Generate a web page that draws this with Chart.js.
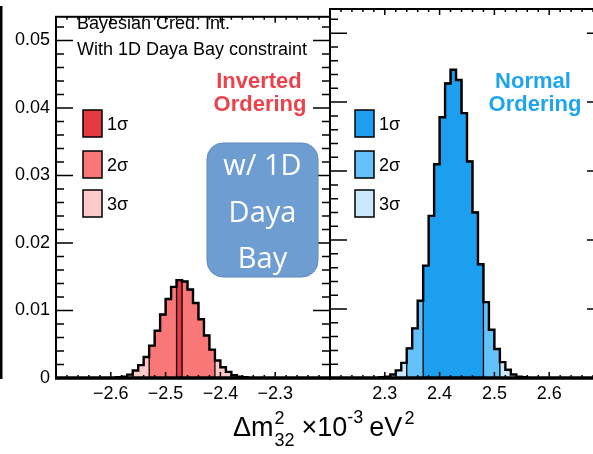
<!DOCTYPE html>
<html>
<head>
<meta charset="utf-8">
<script src="https://cdn.jsdelivr.net/npm/chart.js@4"></script>
<style>
body { margin: 0; background: #fff; overflow: hidden; }
#wrap { position: relative; width: 620px; height: 454px; }
#left { position: absolute; left: 0; top: 0; }
#right { position: absolute; left: 320px; top: 0; }
</style>
</head>
<body>
<div id="wrap">
<canvas id="left" width="620" height="454"></canvas>
<canvas id="right" width="300" height="454"></canvas>
</div>
<script>
// posterior histograms, 0.01 wide bins
var binWidth = 0.01;

// inverted ordering, first bin starts at -2.59
var ioFirstEdge = -2.59;
var ioHeights = [0.0001, 0.0002, 0.0005, 0.0011, 0.0019, 0.0031, 0.0048, 0.0070,
                 0.0094, 0.0117, 0.0135, 0.0145, 0.0143, 0.0131, 0.0111, 0.0087,
                 0.0063, 0.0042, 0.0026, 0.0016, 0.0009, 0.0004, 0.0002, 0.0001];
var io1Sigma = [-2.48, -2.47];
var io2Sigma = [-2.53, -2.41];

// normal ordering, first bin starts at 2.29
var noFirstEdge = 2.29;
var noHeights = [0.0001, 0.0002, 0.0005, 0.0011, 0.0022, 0.0043, 0.0072, 0.0112, 0.0163,
                 0.0235, 0.0310, 0.0378, 0.0427, 0.0447, 0.0432, 0.0384, 0.0314, 0.0240,
                 0.0165, 0.0110, 0.0070, 0.0042, 0.0023, 0.0012, 0.0005, 0.0002, 0.0001];
var no1Sigma = [2.37, 2.48];
var no2Sigma = [2.34, 2.51];

var yTicks = [0, 0.01, 0.02, 0.03, 0.04, 0.05];
var ioTicks = [-2.7, -2.6, -2.5, -2.4, -2.3, -2.2];
var noTicks = [2.2, 2.3, 2.4, 2.5, 2.6, 2.7];
var legendLabels = ['1\u03c3', '2\u03c3', '3\u03c3'];

var yMax = 0.0535;
var ioColors = ['#e53b40', '#fa7777', '#fdc9c9'];
var noColors = ['#1d9ff0', '#62c2f9', '#c9e8fb'];
var FONT = '"Liberation Sans", Arial, sans-serif';

// stepped points for the bins between lo and hi
function histPoints(first, heights, lo, hi) {
    var pts = [];
    for (var i = 0; i < heights.length; i++) {
        var x = Math.round((first + i * binWidth) * 1000) / 1000;
        if (x < lo - 1e-6 || x > hi - binWidth + 1e-6) continue;
        if (!pts.length) pts.push({x: x, y: 0});
        pts.push({x: x, y: heights[i]});
    }
    pts.push({x: hi, y: 0});
    return pts;
}

function makeDatasets(first, heights, s1, s2, colors) {
    var last = Math.round((first + heights.length * binWidth) * 1000) / 1000;
    var all = histPoints(first, heights, first, last);
    var base = {stepped: true, pointRadius: 0, tension: 0, fill: 'origin'};
    return [
        Object.assign({}, base, {data: all, fill: false, borderColor: '#000', borderWidth: 2.4}),
        Object.assign({}, base, {data: histPoints(first, heights, s1[0], s1[1]),
            backgroundColor: colors[0], borderColor: '#000', borderWidth: 1.3}),
        Object.assign({}, base, {data: histPoints(first, heights, s2[0], s2[1]),
            backgroundColor: colors[1], borderColor: '#000', borderWidth: 1.3}),
        Object.assign({}, base, {data: all, backgroundColor: colors[2], borderWidth: 0})
    ];
}

function fmt(v) {
    return (v < 0 ? '\u2212' : '') + Math.abs(v).toFixed(1);
}

// ROOT style frame with inward ticks
var rootFrame = {
    id: 'rootFrame',
    afterDraw: function(chart) {
        var ctx = chart.ctx, a = chart.chartArea;
        var xs = chart.scales.x, ys = chart.scales.y;
        ctx.save();
        ctx.strokeStyle = '#000';
        ctx.lineWidth = 1.5;
        ctx.beginPath();
        for (var i = 0; i * 0.002 <= yMax; i++) {
            var py = ys.getPixelForValue(i * 0.002);
            var len = i % 5 === 0 ? 17 : 8;
            ctx.moveTo(a.left, py); ctx.lineTo(a.left + len, py);
            ctx.moveTo(a.right, py); ctx.lineTo(a.right - len, py);
        }
        for (var j = 0; j <= 25; j++) {
            var v = xs.min + j * 0.02;
            var px = xs.getPixelForValue(v);
            var l2 = j % 5 === 0 ? 6 : 3;
            ctx.moveTo(px, a.bottom); ctx.lineTo(px, a.bottom - l2);
            ctx.moveTo(px, a.top); ctx.lineTo(px, a.top + l2);
        }
        ctx.stroke();
        ctx.lineWidth = 2;
        ctx.strokeRect(a.left, a.top, a.right - a.left, a.bottom - a.top);
        ctx.lineWidth = 3.5;
        ctx.beginPath();
        ctx.moveTo(a.left - 1, a.bottom); ctx.lineTo(a.right + 1, a.bottom);
        ctx.stroke();
        ctx.restore();
    }
};

function drawLegend(ctx, x, colors) {
    var tops = [110, 151, 190];
    ctx.save();
    ctx.lineWidth = 1.5;
    ctx.strokeStyle = '#000';
    ctx.font = '18px ' + FONT;
    ctx.textBaseline = 'middle';
    ctx.textAlign = 'left';
    for (var i = 0; i < 3; i++) {
        ctx.fillStyle = colors[i];
        ctx.fillRect(x, tops[i], 19, 27);
        ctx.strokeRect(x, tops[i], 19, 27);
        ctx.fillStyle = '#000';
        ctx.fillText(legendLabels[i], x + 24, tops[i] + 15);
    }
    ctx.restore();
}

function roundRect(ctx, x, y, w, h, r) {
    ctx.beginPath();
    ctx.moveTo(x + r, y);
    ctx.arcTo(x + w, y, x + w, y + h, r);
    ctx.arcTo(x + w, y + h, x, y + h, r);
    ctx.arcTo(x, y + h, x, y, r);
    ctx.arcTo(x, y, x + w, y, r);
    ctx.closePath();
}

var leftDecor = {
    id: 'leftDecor',
    afterDraw: function(chart) {
        var ctx = chart.ctx;
        ctx.save();
        // cropped outer frame
        ctx.fillStyle = '#000';
        ctx.fillRect(0, 6, 2.5, 373);

        ctx.font = '18px ' + FONT;
        ctx.textAlign = 'left';
        ctx.textBaseline = 'alphabetic';
        ctx.fillText('Bayesian Cred. Int.', 77, 29);
        ctx.fillText('With 1D Daya Bay constraint', 77, 55);

        ctx.fillStyle = '#eb424b';
        ctx.font = 'bold 22px ' + FONT;
        ctx.textAlign = 'center';
        ctx.fillText('Inverted', 259, 88);
        ctx.fillText('Ordering', 260, 111);

        drawLegend(ctx, 83, ioColors);

        roundRect(ctx, 207, 143, 111, 134, 16);
        ctx.fillStyle = '#6e9ed1';
        ctx.fill();
        ctx.strokeStyle = '#5b89c2';
        ctx.lineWidth = 1;
        ctx.stroke();
        ctx.fillStyle = '#fff';
        ctx.font = '29px "Open Sans", sans-serif';
        ctx.textAlign = 'center';
        ctx.textBaseline = 'alphabetic';
        ctx.fillText('w/ 1D', 262.5, 175);
        ctx.fillText('Daya', 262.5, 222);
        ctx.fillText('Bay', 262.5, 268);

        // axis title
        var x = 233, y = 436;
        var big = '27px ' + FONT, small = '18px ' + FONT;
        ctx.fillStyle = '#000';
        ctx.textAlign = 'left';
        ctx.font = big; ctx.fillText('\u0394m', x, y);
        x += ctx.measureText('\u0394m').width + 1;
        ctx.font = small; ctx.fillText('2', x, y - 12); ctx.fillText('32', x, y + 10);
        x += ctx.measureText('32').width + 7;
        ctx.font = big; ctx.fillText('\u00d710', x, y);
        x += ctx.measureText('\u00d710').width;
        ctx.font = small; ctx.fillText('-3', x, y - 13);
        x += ctx.measureText('-3').width + 6;
        ctx.font = big; ctx.fillText('eV', x, y);
        x += ctx.measureText('eV').width + 2;
        ctx.font = small; ctx.fillText('2', x, y - 12);
        ctx.restore();
    }
};

var rightDecor = {
    id: 'rightDecor',
    afterDraw: function(chart) {
        var ctx = chart.ctx;
        ctx.save();
        ctx.fillStyle = '#1fa4ef';
        ctx.font = 'bold 22px ' + FONT;
        ctx.textAlign = 'center';
        ctx.textBaseline = 'alphabetic';
        ctx.fillText('Normal', 533 - 320, 88);
        ctx.fillText('Ordering', 535 - 320, 111);
        drawLegend(ctx, 355 - 320, noColors);
        ctx.restore();
    }
};

function xScale(min, max, ticks) {
    return {
        type: 'linear', min: min, max: max,
        grid: {display: false, drawTicks: false},
        border: {display: false},
        afterBuildTicks: function(s) { s.ticks = ticks.map(function(v) { return {value: v}; }); },
        afterFit: function(s) { s.height = 76; },
        ticks: {
            autoSkip: false, maxRotation: 0, padding: 5, color: '#000',
            font: {family: FONT, size: 18},
            callback: function(v) { return (v === min || v === max) ? '' : fmt(v); }
        }
    };
}

function yScale(show) {
    return {
        min: 0, max: yMax, display: show,
        grid: {display: false, drawTicks: false},
        border: {display: false},
        afterBuildTicks: function(s) { s.ticks = yTicks.map(function(v) { return {value: v}; }); },
        afterFit: function(s) { s.width = show ? 56 : 0; },
        ticks: {
            padding: 6, color: '#000',
            font: {family: FONT, size: 18},
            callback: function(v) { return v === 0 ? '0' : v.toFixed(2); }
        }
    };
}

new Chart(document.getElementById('left'), {
    type: 'line',
    data: {datasets: makeDatasets(ioFirstEdge, ioHeights, io1Sigma, io2Sigma, ioColors)},
    options: {
        responsive: false, animation: false,
        layout: {padding: {left: 0, right: 290, top: 9, bottom: 0}},
        plugins: {legend: {display: false}, tooltip: {enabled: false}},
        scales: {x: xScale(-2.7, -2.2, ioTicks), y: yScale(true)}
    },
    plugins: [rootFrame, leftDecor]
});

new Chart(document.getElementById('right'), {
    type: 'line',
    data: {datasets: makeDatasets(noFirstEdge, noHeights, no1Sigma, no2Sigma, noColors)},
    options: {
        responsive: false, animation: false,
        layout: {padding: {left: 10, right: 16, top: 9, bottom: 0}},
        plugins: {legend: {display: false}, tooltip: {enabled: false}},
        scales: {x: xScale(2.2, 2.7, noTicks), y: yScale(false)}
    },
    plugins: [rootFrame, rightDecor]
});
</script>
</body>
</html>
